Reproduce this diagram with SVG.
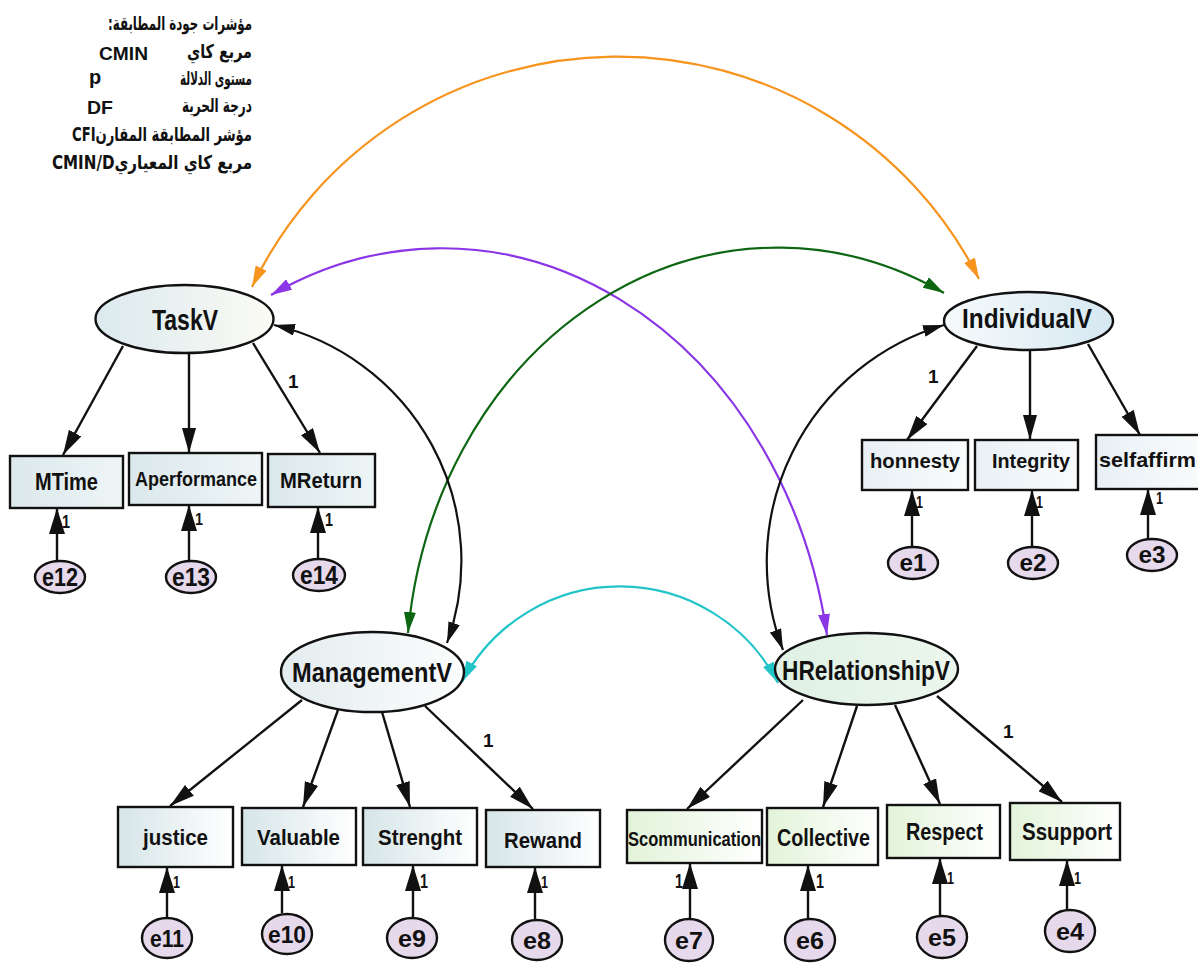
<svg xmlns="http://www.w3.org/2000/svg" width="1198" height="963" viewBox="0 0 1198 963">
  <style>
    .lbl { font-family: "Liberation Sans", Arial, sans-serif; font-weight: bold; fill: #111; }
    .ar { font-family: "DejaVu Sans", "Liberation Sans", sans-serif; font-weight: bold; font-size: 19px; fill: #111; }
    .box { stroke: #111; stroke-width: 2.4; }
    .lat { stroke: #111; stroke-width: 2.4; }
    .err { fill: #e6d9ec; stroke: #111; stroke-width: 2.4; }
    .ln { stroke: #111; stroke-width: 2.4; fill: none; }
    .cv { stroke-width: 2.2; fill: none; }
  </style>
  <defs>
    <linearGradient id="gTask" x1="0" y1="0" x2="1" y2="0">
      <stop offset="0" stop-color="#dbe9ee"/><stop offset="1" stop-color="#fbfbf4"/>
    </linearGradient>
    <linearGradient id="gInd" x1="0" y1="0" x2="1" y2="0">
      <stop offset="0" stop-color="#f6fafb"/><stop offset="1" stop-color="#d6e8f2"/>
    </linearGradient>
    <linearGradient id="gMan" x1="0" y1="0" x2="1" y2="0">
      <stop offset="0" stop-color="#e3ecef"/><stop offset="1" stop-color="#fcfdfd"/>
    </linearGradient>
    <linearGradient id="gHR" x1="0" y1="0" x2="1" y2="0">
      <stop offset="0" stop-color="#dff1e4"/><stop offset="1" stop-color="#ecf6ec"/>
    </linearGradient>
    <linearGradient id="bTask" x1="0" y1="0" x2="1" y2="0">
      <stop offset="0" stop-color="#dbe8ec"/><stop offset="1" stop-color="#eef5f6"/>
    </linearGradient>
    <linearGradient id="bInd" x1="0" y1="0" x2="1" y2="0">
      <stop offset="0" stop-color="#e8f0f5"/><stop offset="1" stop-color="#f9fbfc"/>
    </linearGradient>
    <linearGradient id="bMan" x1="0" y1="0" x2="1" y2="0">
      <stop offset="0" stop-color="#d6e5e8"/><stop offset="1" stop-color="#ffffff"/>
    </linearGradient>
    <linearGradient id="bHR" x1="0" y1="0" x2="1" y2="0">
      <stop offset="0" stop-color="#e2f3d9"/><stop offset="1" stop-color="#ffffff"/>
    </linearGradient>
    <marker id="mk" markerUnits="userSpaceOnUse" markerWidth="26" markerHeight="14" refX="25" refY="7" orient="auto">
      <path d="M0,0 L25,7 L0,14 z" fill="#111"/>
    </marker>
    <marker id="mkE" markerUnits="userSpaceOnUse" markerWidth="27" markerHeight="16" refX="26" refY="8" orient="auto">
      <path d="M0,0 L26,8 L0,16 z" fill="#111"/>
    </marker>
    <marker id="cBlk" markerUnits="userSpaceOnUse" markerWidth="22" markerHeight="12" refX="21" refY="6" orient="auto-start-reverse">
      <path d="M0,0 L21,6 L0,12 z" fill="#111"/>
    </marker>
    <marker id="cOra" markerUnits="userSpaceOnUse" markerWidth="22" markerHeight="12" refX="21" refY="6" orient="auto-start-reverse">
      <path d="M0,0 L21,6 L0,12 z" fill="#f7941d"/>
    </marker>
    <marker id="cPur" markerUnits="userSpaceOnUse" markerWidth="22" markerHeight="12" refX="21" refY="6" orient="auto-start-reverse">
      <path d="M0,0 L21,6 L0,12 z" fill="#8a35e6"/>
    </marker>
    <marker id="cGrn" markerUnits="userSpaceOnUse" markerWidth="22" markerHeight="12" refX="21" refY="6" orient="auto-start-reverse">
      <path d="M0,0 L21,6 L0,12 z" fill="#0c6612"/>
    </marker>
    <marker id="cCyn" markerUnits="userSpaceOnUse" markerWidth="22" markerHeight="12" refX="21" refY="6" orient="auto-start-reverse">
      <path d="M0,0 L21,6 L0,12 z" fill="#22c4c8"/>
    </marker>
  </defs>

  <rect width="1198" height="963" fill="#ffffff"/>

  <!-- fit indices legend -->
  <g id="legend">
    <text class="ar" x="252" y="30" direction="rtl" text-anchor="start" textLength="144" lengthAdjust="spacingAndGlyphs">مؤشرات جودة المطابقة:</text>
    <text class="ar" x="252" y="58" direction="rtl" text-anchor="start" textLength="65" lengthAdjust="spacingAndGlyphs">مربع كاي</text>
    <text class="lbl" x="99" y="60" font-size="19" textLength="49" lengthAdjust="spacingAndGlyphs">CMIN</text>
    <text class="ar" x="252" y="85" direction="rtl" text-anchor="start" textLength="72" lengthAdjust="spacingAndGlyphs">مستوى الدلالة</text>
    <text class="lbl" x="89" y="84" font-size="20">p</text>
    <text class="ar" x="252" y="112" direction="rtl" text-anchor="start" textLength="70" lengthAdjust="spacingAndGlyphs">درجة الحرية</text>
    <text class="lbl" x="87" y="114" font-size="19" textLength="26" lengthAdjust="spacingAndGlyphs">DF</text>
    <text class="ar" x="252" y="141" direction="rtl" text-anchor="start" textLength="180" lengthAdjust="spacingAndGlyphs">مؤشر المطابقة المقارنCFI</text>
    <text class="ar" x="252" y="169" direction="rtl" text-anchor="start" textLength="200" lengthAdjust="spacingAndGlyphs">مربع كاي المعياريCMIN/D</text>
  </g>

  <!-- connectors -->
  <g id="connectors">
    <!-- covariances -->
    <path class="cv" stroke="#f7941d" d="M252,287 A405,405 0 0 1 979,279" marker-start="url(#cOra)" marker-end="url(#cOra)"/>
    <path class="cv" stroke="#8a35e6" d="M271,295 A391,466 0 0 1 827,635" marker-start="url(#cPur)" marker-end="url(#cPur)"/>
    <path class="cv" stroke="#0c6612" d="M408,633 A372,431 0 0 1 944,293" marker-start="url(#cGrn)" marker-end="url(#cGrn)"/>
    <path class="cv" stroke="#111" d="M274,325 A242,242 0 0 1 447,643" marker-start="url(#cBlk)" marker-end="url(#cBlk)"/>
    <path class="cv" stroke="#111" d="M944,325 A247,247 0 0 0 783,650" marker-start="url(#cBlk)" marker-end="url(#cBlk)"/>
    <path class="cv" stroke="#22c4c8" d="M462,682 A178,178 0 0 1 778,683" marker-start="url(#cCyn)" marker-end="url(#cCyn)"/>

    <!-- loadings -->
    <line class="ln" x1="123" y1="346" x2="63" y2="455" marker-end="url(#mk)"/>
    <line class="ln" x1="189" y1="354" x2="189" y2="453" marker-end="url(#mk)"/>
    <line class="ln" x1="253" y1="343" x2="320" y2="453" marker-end="url(#mk)"/>

    <line class="ln" x1="977" y1="346" x2="907" y2="440" marker-end="url(#mk)"/>
    <line class="ln" x1="1030" y1="350" x2="1030" y2="440" marker-end="url(#mk)"/>
    <line class="ln" x1="1088" y1="344" x2="1140" y2="435" marker-end="url(#mk)"/>

    <line class="ln" x1="302" y1="700" x2="170" y2="806" marker-end="url(#mk)"/>
    <line class="ln" x1="338" y1="710" x2="303" y2="807" marker-end="url(#mk)"/>
    <line class="ln" x1="382" y1="712" x2="410" y2="807" marker-end="url(#mk)"/>
    <line class="ln" x1="425" y1="706" x2="533" y2="809" marker-end="url(#mk)"/>

    <line class="ln" x1="803" y1="700" x2="687" y2="809" marker-end="url(#mk)"/>
    <line class="ln" x1="857" y1="706" x2="823" y2="807" marker-end="url(#mk)"/>
    <line class="ln" x1="895" y1="705" x2="940" y2="804" marker-end="url(#mk)"/>
    <line class="ln" x1="937" y1="696" x2="1062" y2="802" marker-end="url(#mk)"/>

    <!-- error terms -->
    <line class="ln" x1="57" y1="561" x2="57" y2="508" marker-end="url(#mkE)"/>
    <line class="ln" x1="189" y1="561" x2="189" y2="505" marker-end="url(#mkE)"/>
    <line class="ln" x1="318" y1="559" x2="318" y2="507" marker-end="url(#mkE)"/>

    <line class="ln" x1="912" y1="547" x2="912" y2="490" marker-end="url(#mkE)"/>
    <line class="ln" x1="1032" y1="547" x2="1032" y2="490" marker-end="url(#mkE)"/>
    <line class="ln" x1="1148" y1="539" x2="1148" y2="489" marker-end="url(#mkE)"/>

    <line class="ln" x1="167" y1="917" x2="167" y2="867" marker-end="url(#mkE)"/>
    <line class="ln" x1="282" y1="913" x2="282" y2="865" marker-end="url(#mkE)"/>
    <line class="ln" x1="413" y1="917" x2="413" y2="865" marker-end="url(#mkE)"/>
    <line class="ln" x1="535" y1="919" x2="535" y2="867" marker-end="url(#mkE)"/>

    <line class="ln" x1="690" y1="918" x2="690" y2="863" marker-end="url(#mkE)"/>
    <line class="ln" x1="808" y1="918" x2="808" y2="865" marker-end="url(#mkE)"/>
    <line class="ln" x1="940" y1="915" x2="940" y2="858" marker-end="url(#mkE)"/>
    <line class="ln" x1="1067" y1="910" x2="1067" y2="860" marker-end="url(#mkE)"/>

    <!-- path coefficients -->
    <text class="lbl" x="288" y="388" font-size="19">1</text>
    <text class="lbl" x="928" y="383" font-size="19">1</text>
    <text class="lbl" x="483" y="747" font-size="19">1</text>
    <text class="lbl" x="1003" y="738" font-size="19">1</text>

    <text class="lbl" x="62" y="528" font-size="19" textLength="8" lengthAdjust="spacingAndGlyphs">1</text>
    <text class="lbl" x="195" y="525" font-size="17" textLength="8" lengthAdjust="spacingAndGlyphs">1</text>
    <text class="lbl" x="325" y="526" font-size="18" textLength="8" lengthAdjust="spacingAndGlyphs">1</text>
    <text class="lbl" x="916" y="508" font-size="17" textLength="7" lengthAdjust="spacingAndGlyphs">1</text>
    <text class="lbl" x="1036" y="508" font-size="17" textLength="7" lengthAdjust="spacingAndGlyphs">1</text>
    <text class="lbl" x="1156" y="504" font-size="17" textLength="7" lengthAdjust="spacingAndGlyphs">1</text>
    <text class="lbl" x="173" y="888" font-size="17" textLength="7" lengthAdjust="spacingAndGlyphs">1</text>
    <text class="lbl" x="288" y="888" font-size="17" textLength="7" lengthAdjust="spacingAndGlyphs">1</text>
    <text class="lbl" x="420" y="888" font-size="20" textLength="8" lengthAdjust="spacingAndGlyphs">1</text>
    <text class="lbl" x="541" y="888" font-size="17" textLength="7" lengthAdjust="spacingAndGlyphs">1</text>
    <text class="lbl" x="675" y="888" font-size="20" textLength="8" lengthAdjust="spacingAndGlyphs">1</text>
    <text class="lbl" x="816" y="888" font-size="20" textLength="8" lengthAdjust="spacingAndGlyphs">1</text>
    <text class="lbl" x="947" y="884" font-size="17" textLength="7" lengthAdjust="spacingAndGlyphs">1</text>
    <text class="lbl" x="1074" y="884" font-size="17" textLength="7" lengthAdjust="spacingAndGlyphs">1</text>
  </g>

  <!-- latent variables -->
  <g id="TaskV">
    <ellipse class="lat" cx="184.5" cy="319" rx="89" ry="34" fill="url(#gTask)"/>
    <text class="lbl" x="152" y="330" font-size="30" textLength="66" lengthAdjust="spacingAndGlyphs">TaskV</text>
  </g>
  <g id="IndividualV">
    <ellipse class="lat" cx="1028.5" cy="321" rx="84.5" ry="29" fill="url(#gInd)"/>
    <text class="lbl" x="962" y="328" font-size="28" textLength="130" lengthAdjust="spacingAndGlyphs">IndividualV</text>
  </g>
  <g id="ManagementV">
    <ellipse class="lat" cx="372.5" cy="672" rx="91.5" ry="40" fill="url(#gMan)"/>
    <text class="lbl" x="292" y="682" font-size="28" textLength="160" lengthAdjust="spacingAndGlyphs">ManagementV</text>
  </g>
  <g id="HRelationshipV">
    <ellipse class="lat" cx="866.5" cy="669" rx="91.5" ry="36" fill="url(#gHR)"/>
    <text class="lbl" x="782" y="680" font-size="28" textLength="168" lengthAdjust="spacingAndGlyphs">HRelationshipV</text>
  </g>

  <!-- observed indicators -->
  <g id="MTime">
    <rect class="box" x="10" y="456" width="113" height="52" fill="url(#bTask)"/>
    <text class="lbl" x="35" y="490" font-size="23" textLength="63" lengthAdjust="spacingAndGlyphs">MTime</text>
  </g>
  <g id="Aperformance">
    <rect class="box" x="129" y="453" width="133" height="52" fill="url(#bTask)"/>
    <text class="lbl" x="135" y="486" font-size="21" textLength="122" lengthAdjust="spacingAndGlyphs">Aperformance</text>
  </g>
  <g id="MReturn">
    <rect class="box" x="268" y="454" width="107" height="53" fill="url(#bTask)"/>
    <text class="lbl" x="280" y="488" font-size="22" textLength="82" lengthAdjust="spacingAndGlyphs">MReturn</text>
  </g>
  <g id="honnesty">
    <rect class="box" x="862" y="440" width="106" height="50" fill="url(#bInd)"/>
    <text class="lbl" x="870" y="468" font-size="21" textLength="90" lengthAdjust="spacingAndGlyphs">honnesty</text>
  </g>
  <g id="Integrity">
    <rect class="box" x="975" y="440" width="103" height="50" fill="url(#bInd)"/>
    <text class="lbl" x="992" y="468" font-size="21" textLength="78" lengthAdjust="spacingAndGlyphs">Integrity</text>
  </g>
  <g id="selfaffirm">
    <rect class="box" x="1096" y="435" width="104" height="54" fill="url(#bInd)"/>
    <text class="lbl" x="1099" y="467" font-size="21" textLength="97" lengthAdjust="spacingAndGlyphs">selfaffirm</text>
  </g>
  <g id="justice">
    <rect class="box" x="118" y="807" width="115" height="60" fill="url(#bMan)"/>
    <text class="lbl" x="143" y="845" font-size="22" textLength="65" lengthAdjust="spacingAndGlyphs">justice</text>
  </g>
  <g id="Valuable">
    <rect class="box" x="242" y="808" width="114" height="57" fill="url(#bMan)"/>
    <text class="lbl" x="257" y="845" font-size="22" textLength="83" lengthAdjust="spacingAndGlyphs">Valuable</text>
  </g>
  <g id="Strenght">
    <rect class="box" x="363" y="808" width="114" height="57" fill="url(#bMan)"/>
    <text class="lbl" x="378" y="845" font-size="22" textLength="84" lengthAdjust="spacingAndGlyphs">Strenght</text>
  </g>
  <g id="Rewand">
    <rect class="box" x="486" y="810" width="114" height="57" fill="url(#bMan)"/>
    <text class="lbl" x="504" y="848" font-size="22" textLength="78" lengthAdjust="spacingAndGlyphs">Rewand</text>
  </g>
  <g id="Scommunication">
    <rect class="box" x="627" y="810" width="135" height="53" fill="url(#bHR)"/>
    <text class="lbl" x="628" y="846" font-size="20" textLength="133" lengthAdjust="spacingAndGlyphs">Scommunication</text>
  </g>
  <g id="Collective">
    <rect class="box" x="767" y="808" width="111" height="57" fill="url(#bHR)"/>
    <text class="lbl" x="777" y="846" font-size="23" textLength="93" lengthAdjust="spacingAndGlyphs">Collective</text>
  </g>
  <g id="Respect">
    <rect class="box" x="887" y="805" width="113" height="53" fill="url(#bHR)"/>
    <text class="lbl" x="906" y="840" font-size="23" textLength="77" lengthAdjust="spacingAndGlyphs">Respect</text>
  </g>
  <g id="Ssupport">
    <rect class="box" x="1010" y="803" width="110" height="57" fill="url(#bHR)"/>
    <text class="lbl" x="1022" y="840" font-size="23" textLength="90" lengthAdjust="spacingAndGlyphs">Ssupport</text>
  </g>

  <!-- error terms -->
  <g id="e12"><ellipse class="err" cx="60" cy="577" rx="25" ry="16"/><text class="lbl" x="60" y="586" font-size="25" text-anchor="middle" textLength="36" lengthAdjust="spacingAndGlyphs">e12</text></g>
  <g id="e13"><ellipse class="err" cx="191" cy="577" rx="25" ry="16"/><text class="lbl" x="191" y="586" font-size="25" text-anchor="middle" textLength="38" lengthAdjust="spacingAndGlyphs">e13</text></g>
  <g id="e14"><ellipse class="err" cx="319" cy="575" rx="26" ry="16"/><text class="lbl" x="319" y="584" font-size="25" text-anchor="middle" textLength="38" lengthAdjust="spacingAndGlyphs">e14</text></g>
  <g id="e1"><ellipse class="err" cx="913" cy="563" rx="25" ry="16"/><text class="lbl" x="913" y="571" font-size="23" text-anchor="middle" textLength="27" lengthAdjust="spacingAndGlyphs">e1</text></g>
  <g id="e2"><ellipse class="err" cx="1033" cy="563" rx="25" ry="16"/><text class="lbl" x="1033" y="571" font-size="23" text-anchor="middle" textLength="27" lengthAdjust="spacingAndGlyphs">e2</text></g>
  <g id="e3"><ellipse class="err" cx="1152" cy="555" rx="25" ry="16"/><text class="lbl" x="1152" y="563" font-size="23" text-anchor="middle" textLength="27" lengthAdjust="spacingAndGlyphs">e3</text></g>
  <g id="e11"><ellipse class="err" cx="167" cy="938" rx="25" ry="20"/><text class="lbl" x="167" y="947" font-size="24" text-anchor="middle" textLength="34" lengthAdjust="spacingAndGlyphs">e11</text></g>
  <g id="e10"><ellipse class="err" cx="287" cy="934" rx="25" ry="20"/><text class="lbl" x="287" y="943" font-size="24" text-anchor="middle" textLength="38" lengthAdjust="spacingAndGlyphs">e10</text></g>
  <g id="e9"><ellipse class="err" cx="412" cy="938" rx="25" ry="20"/><text class="lbl" x="412" y="947" font-size="24" text-anchor="middle" textLength="28" lengthAdjust="spacingAndGlyphs">e9</text></g>
  <g id="e8"><ellipse class="err" cx="537" cy="940" rx="25" ry="20"/><text class="lbl" x="537" y="949" font-size="24" text-anchor="middle" textLength="28" lengthAdjust="spacingAndGlyphs">e8</text></g>
  <g id="e7"><ellipse class="err" cx="689" cy="940" rx="24" ry="21"/><text class="lbl" x="689" y="949" font-size="24" text-anchor="middle" textLength="28" lengthAdjust="spacingAndGlyphs">e7</text></g>
  <g id="e6"><ellipse class="err" cx="810" cy="940" rx="25" ry="21"/><text class="lbl" x="810" y="949" font-size="24" text-anchor="middle" textLength="28" lengthAdjust="spacingAndGlyphs">e6</text></g>
  <g id="e5"><ellipse class="err" cx="942" cy="937" rx="25" ry="21"/><text class="lbl" x="942" y="946" font-size="24" text-anchor="middle" textLength="28" lengthAdjust="spacingAndGlyphs">e5</text></g>
  <g id="e4"><ellipse class="err" cx="1070" cy="931" rx="25" ry="21"/><text class="lbl" x="1070" y="940" font-size="24" text-anchor="middle" textLength="28" lengthAdjust="spacingAndGlyphs">e4</text></g>
</svg>
